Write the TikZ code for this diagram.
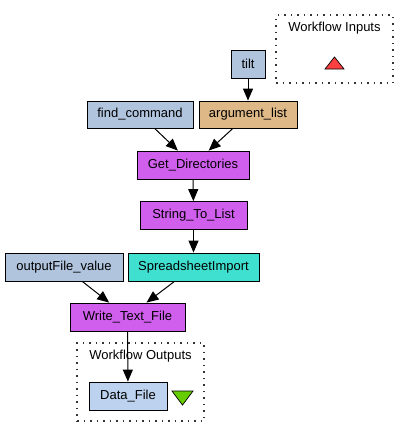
\documentclass[tikz,border=0pt]{standalone}
\usepackage{fontspec}
\setmainfont{Liberation Sans}
\usetikzlibrary{arrows.meta}
\definecolor{constblue}{HTML}{B0C4DE}
\definecolor{outblue}{HTML}{BCD2EE}
\definecolor{beanbrown}{HTML}{DEB887}
\definecolor{workerpurple}{HTML}{D15FEE}
\definecolor{importcyan}{HTML}{40E0D0}
\definecolor{inred}{HTML}{FF4040}
\definecolor{outgreen}{HTML}{66CD00}

\begin{document}
\begin{tikzpicture}[x=1pt, y=-1pt, >={Triangle[length=12pt,width=10pt]}, line width=0.8pt,
  every node/.style={font=\fontsize{13}{15}\selectfont},
  box/.style={draw=black, rectangle, inner sep=0pt, minimum height=28pt},
  constant/.style={box, fill=constblue},
  beanshell/.style={box, fill=beanbrown},
  localworker/.style={box, fill=workerpurple},
  spreadsheet/.style={box, fill=importcyan},
  outport/.style={box, fill=outblue},
  link/.style={->, line width=1pt},
  cluster/.style={draw=black!80, dash pattern=on 1.5pt off 5pt, line width=1.2pt, rectangle, inner sep=0pt}]
\useasboundingbox (0,0) rectangle (409,437);

% workflow inputs / outputs
\node[cluster, minimum width=117pt, minimum height=68pt] (inputs) at (334.5,49) {};
\node (inlabel) at (334.5,28) {Workflow Inputs};
\filldraw[fill=inred, line width=0.7pt] (334.5,57) -- (344,69) -- (325,69) -- cycle;
\node[cluster, minimum width=127pt, minimum height=78pt] (outputs) at (140.5,382) {};
\node (outlabel) at (140.5,356) {Workflow Outputs};
\filldraw[fill=outgreen, line width=0.7pt] (172,391) -- (193,391) -- (182.5,405) -- cycle;

\node[constant, minimum width=34pt] (tilt) at (248,64) {tilt};
\node[constant, minimum width=106pt, minimum height=27pt] (find) at (140,114.5) {find\_command};
\node[beanshell, minimum width=98pt, minimum height=27pt] (arglist) at (248,114.5) {argument\_list};
\node[localworker, minimum width=112pt] (getdir) at (193,165) {Get\_Directories};
\node[localworker, minimum width=107pt] (strlist) at (193.5,215.5) {String\_To\_List};
\node[spreadsheet, minimum width=131pt] (import) at (193.5,267) {SpreadsheetImport};
\node[constant, minimum width=118pt] (outvalue) at (64,267) {outputFile\_value};
\node[localworker, minimum width=115pt] (write) at (127.5,317) {Write\_Text\_File};
\node[outport, minimum width=78pt] (datafile) at (128,396) {Data\_File};

\draw[link] (tilt) -- (arglist);
\draw[link] (find) -- (getdir);
\draw[link] (arglist) -- (getdir);
\draw[link] (getdir) -- (strlist);
\draw[link] (strlist) -- (import);
\draw[link] (outvalue) -- (write);
\draw[link] (import) -- (write);
\draw[link] (write) -- (datafile);
\end{tikzpicture}
\end{document}
